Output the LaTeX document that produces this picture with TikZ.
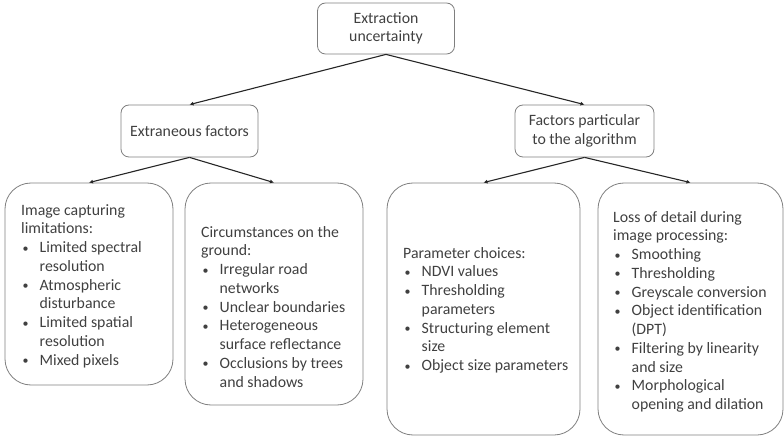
\documentclass[tikz,border=0pt]{standalone}
\usepackage{fontspec}
\setmainfont{Carlito}
\usetikzlibrary{arrows.meta,positioning}
\definecolor{txtgray}{HTML}{404040}
\definecolor{edgegray}{HTML}{7F7F7F}
\definecolor{linkgray}{HTML}{262626}
\newcommand{\bulitem}{\hspace*{1.5pt}\makebox[17pt][l]{\raisebox{0.5pt}{\fontsize{12}{12}\selectfont\textbullet}}}
\newcommand{\bulcont}{\hspace*{18.5pt}}

\begin{document}
\begin{tikzpicture}[auto,x=1pt,y=-1pt]
\tikzstyle{head}=[draw=edgegray,line width=0.8pt,rounded corners=8pt,inner sep=0pt,align=center,text=txtgray,font={\fontsize{15.8}{18.6}\selectfont}]
\tikzstyle{group}=[draw=edgegray,line width=0.8pt,rounded corners=26pt,inner sep=0pt]
\tikzstyle{list}=[anchor=north west,inner sep=0pt,align=left,text=txtgray,font={\fontsize{15.8}{18.75}\selectfont}]
\tikzstyle{link}=[draw=linkgray,line width=1.1pt,-{Latex[length=4pt,width=4pt]}]

\useasboundingbox (0,0) rectangle (784,438);

% top levels
\node [head] (root) at(386,28.5)[minimum width=137pt,minimum height=51pt] {Extraction\\uncertainty};
\node [head] (extr) at(189.5,131)[minimum width=137pt,minimum height=52pt] {Extraneous factors};
\node [head] (algo) at(584.5,131)[minimum width=139pt,minimum height=52pt] {Factors particular\\to the algorithm};

% bottom boxes
\node [group] (capt) at(89,284)[minimum width=168pt,minimum height=202pt] {};
\node [group] (grnd) at(274,294)[minimum width=178pt,minimum height=222pt] {};
\node [group] (parm) at(483.5,309)[minimum width=193pt,minimum height=252pt] {};
\node [group] (loss) at(690.5,309)[minimum width=185pt,minimum height=252pt] {};

% box texts
\node [list] (captxt) at(21,204) {Image capturing\\limitations:\\
\bulitem Limited spectral\\\bulcont resolution\\
\bulitem Atmospheric\\\bulcont disturbance\\
\bulitem Limited spatial\\\bulcont resolution\\
\bulitem Mixed pixels};
\node [list] (grndtxt) at(201,226) {Circumstances on the\\ground:\\
\bulitem Irregular road\\\bulcont networks\\
\bulitem Unclear boundaries\\
\bulitem Heterogeneous\\\bulcont surface reflectance\\
\bulitem Occlusions by trees\\\bulcont and shadows};
\node [list] (parmtxt) at(403,247) {Parameter choices:\\
\bulitem NDVI values\\
\bulitem Thresholding\\\bulcont parameters\\
\bulitem Structuring element\\\bulcont size\\
\bulitem Object size parameters};
\node [list] (losstxt) at(613,211) {Loss of detail during\\image processing:\\
\bulitem Smoothing\\
\bulitem Thresholding\\
\bulitem Greyscale conversion\\
\bulitem Object identification\\\bulcont (DPT)\\
\bulitem Filtering by linearity\\\bulcont and size\\
\bulitem Morphological\\\bulcont opening and dilation};

\path (root.south) edge [link] (extr.north);
\path (root.south) edge [link] (algo.north);
\path (extr.south) edge [link] (capt.north);
\path (extr.south) edge [link] (grnd.north);
\path (algo.south) edge [link] (parm.north);
\path (algo.south) edge [link] (loss.north);
\end{tikzpicture}
\end{document}
